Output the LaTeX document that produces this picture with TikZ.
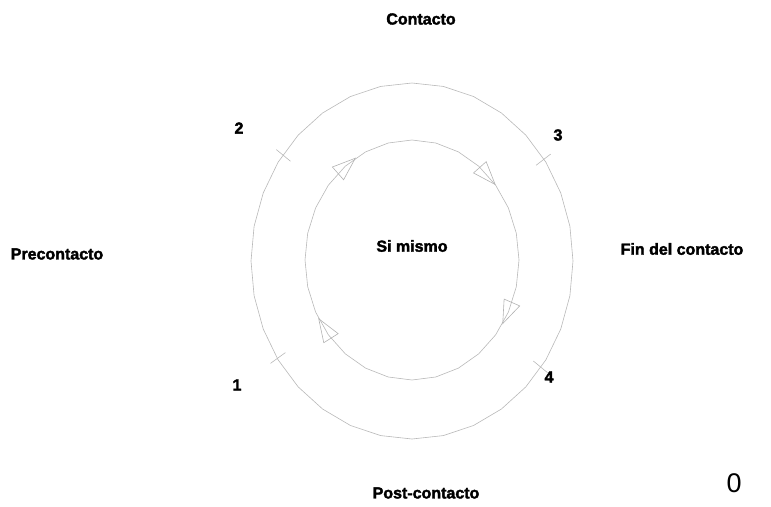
\documentclass[tikz,border=0pt]{standalone}
\usepackage{fontspec}
\setmainfont{Liberation Sans}
\newfontfamily\heavyfont[FakeBold=2.2]{Liberation Sans Bold}
\usetikzlibrary{calc}
\begin{document}
\begin{tikzpicture}[x=1pt,y=-1pt,
  ring/.style={draw=black!28, line width=0.6pt},
  tickmark/.style={draw=black!28, line width=0.6pt},
  arrowtri/.style={draw=black!30, line width=0.6pt, line join=miter},
  lbl/.style={font=\heavyfont\fontsize{16}{18}\selectfont, inner sep=0pt}]
\useasboundingbox (0,0) rectangle (771,506);
% rings
\draw[ring] plot[domain=0:360, samples=33] ({412+161*cos(\x)},{261+178*sin(\x)}) -- cycle;
\draw[ring] plot[domain=0:360, samples=29] ({412+107*cos(\x)},{260+120*sin(\x)}) -- cycle;
% tick marks on outer ring
\foreach \t/\n in {216.6/2, 325.1/3, 146.8/1, 36.7/4} {
  \coordinate (ta\n) at ({412+0.94*161*cos(\t)},{261+0.94*178*sin(\t)});
  \coordinate (tb\n) at ({412+1.05*161*cos(\t)},{261+1.05*178*sin(\t)});
  \draw[tickmark] (ta\n) -- (tb\n);
}
% open arrowheads on inner ring (clockwise)
\foreach \t [count=\i] in {238,321,32,150.7} {
  \coordinate (tip\i) at ({412+107*cos(\t)},{260+120*sin(\t)});
  \coordinate (prev\i) at ({412+107*cos(\t-12)},{260+120*sin(\t-12)});
  \coordinate (bc\i) at ($(tip\i)!23pt!(prev\i)$);
  \coordinate (bl\i) at ($(bc\i)!8.5pt!90:(tip\i)$);
  \coordinate (br\i) at ($(bc\i)!8.5pt!-90:(tip\i)$);
  \draw[arrowtri] (tip\i) -- (bl\i) -- (br\i) -- cycle;
}
% labels
\node[lbl] (contacto) at (421,19) {Contacto};
\node[lbl] (pre) at (57,254) {Precontacto};
\node[lbl] (fin) at (682,249) {Fin del contacto};
\node[lbl] (post) at (426,493) {Post-contacto};
\node[lbl] (si) at (412,246) {Si mismo};
\node[lbl] (n2) at (239,128) {2};
\node[lbl] (n3) at (558,135) {3};
\node[lbl] (n1) at (237,385) {1};
\node[lbl] (n4) at (549,377) {4};
\node[font=\fontsize{27}{30}\selectfont, inner sep=0pt] (zero) at (734,483) {0};
\end{tikzpicture}
\end{document}
